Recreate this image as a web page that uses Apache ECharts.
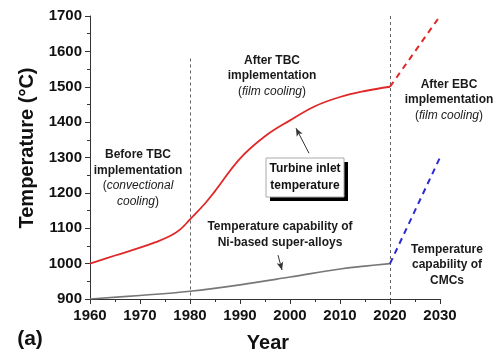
<!DOCTYPE html>
<html><head><meta charset="utf-8">
<script src="https://cdn.jsdelivr.net/npm/echarts@6/dist/echarts.min.js"></script>
<style>html,body{margin:0;padding:0;background:#fff}#c{width:500px;height:361px}</style>
</head><body><div id="c"></div>
<script>
// Data
const years = [1960,1965,1970,1973,1976,1978,1980,1983,1985,1990,1995,2000,2005,2010,2015,2020];
const turbineTemps = [1000,1023,1045,1060,1078,1096,1125,1170,1205,1297,1360,1405,1445,1471,1488,1500];
const alloyYears = [1960,1970,1980,1990,2000,2010,2015,2020];
const alloyTemps = [900,910,922,940,962,985,993,1000];
const ebcYears = [2020,2030];
const ebcTemps = [1500,1700];
const cmcYears = [2020,2030];
const cmcTemps = [1000,1300];
const xTicks = [1960,1970,1980,1990,2000,2010,2020,2030];
const yTicks = [900,1000,1100,1200,1300,1400,1500,1600,1700];

const FF = 'Liberation Sans, Arial, sans-serif';
const chart = echarts.init(document.getElementById('c'));
const pair = (xs, ys) => xs.map((x, i) => [x, ys[i]]);

const txt = (x, y, text, extra) => ({
  type: 'text', x, y, z: 50,
  style: Object.assign({
    text, align: 'center', verticalAlign: 'middle',
    fontFamily: FF, fontWeight: 'bold', fontSize: 12, lineHeight: 15.5, fill: '#1a1a1a',
    rich: {
      i: {fontStyle: 'italic', fontWeight: 'normal', fontSize: 12, fontFamily: FF, fill: '#1a1a1a', lineHeight: 15.5},
      n: {fontWeight: 'normal', fontSize: 12, fontFamily: FF, fill: '#1a1a1a', lineHeight: 15.5}
    }
  }, extra || {})
});

const arrowLine = (a, b) => [{coord: a}, {coord: b}];

chart.setOption({
  animation: false,
  grid: {left: 90, right: 60, top: 16, bottom: 62},
  xAxis: {
    type: 'value', min: xTicks[0], max: xTicks[xTicks.length-1], interval: 10,
    axisLine: {lineStyle: {color: '#333', width: 1}},
    axisTick: {length: 5, lineStyle: {color: '#333'}},
    minorTick: {show: true, splitNumber: 2, length: 3, lineStyle: {color: '#333'}},
    splitLine: {show: false},
    axisLabel: {color: '#111', fontWeight: 'bold', fontSize: 15, fontFamily: FF, margin: 9,
      formatter: v => String(v)}
  },
  yAxis: {
    type: 'value', min: yTicks[0], max: yTicks[yTicks.length-1], interval: 100,
    axisLine: {show: true, lineStyle: {color: '#333', width: 1}},
    axisTick: {show: true, length: 5, lineStyle: {color: '#333'}},
    minorTick: {show: true, splitNumber: 2, length: 3, lineStyle: {color: '#333'}},
    splitLine: {show: false},
    axisLabel: {color: '#111', fontWeight: 'bold', fontSize: 15, fontFamily: FF, margin: 8,
      formatter: v => String(v)}
  },
  series: [
    {type: 'line', data: pair(years, turbineTemps), smooth: 0.4, showSymbol: false,
     lineStyle: {color: '#e02828', width: 1.8}, z: 5},
    {type: 'line', data: pair(alloyYears, alloyTemps), smooth: 0.4, showSymbol: false,
     lineStyle: {color: '#777', width: 1.6}, z: 5},
    {type: 'line', data: pair(ebcYears, ebcTemps), showSymbol: false,
     lineStyle: {color: '#e02828', width: 2, type: [6, 5]}, z: 5},
    {type: 'line', data: pair(cmcYears, cmcTemps), showSymbol: false,
     lineStyle: {color: '#2a2ad0', width: 2, type: [6, 5]}, z: 5},
    {type: 'line', data: [], clip: false, z: 3,
     markLine: {silent: true, symbol: ['none','none'], label: {show: false},
       lineStyle: {color: '#666', width: 1, type: [3, 3]},
       data: [arrowLine([1980, 1580], [1980, 900]), arrowLine([2020, 1700], [2020, 900])]}},
    {type: 'line', data: [], clip: false, z: 10,
     markLine: {silent: true, symbol: ['none','arrow'], symbolSize: [5, 8], label: {show: false},
       lineStyle: {color: '#333', width: 1, type: 'solid'},
       data: [
         arrowLine([2003.8, 1312], [2001.2, 1383]),
         arrowLine([1997.6, 1024], [1998.4, 982]),
         arrowLine([2030.6, 1541], [2028.4, 1629]),
         arrowLine([2030.4, 1067], [2028.0, 1163])
       ]}}
  ],
  graphic: [
    {type: 'text', x: 27, y: 148, rotation: Math.PI/2, z: 50,
     style: {text: 'Temperature (°C)', align: 'center', verticalAlign: 'middle',
       fontFamily: FF, fontWeight: 'bold', fontSize: 20, fill: '#111'}},
    {type: 'text', x: 268, y: 343, z: 50,
     style: {text: 'Year', align: 'center', verticalAlign: 'middle',
       fontFamily: FF, fontWeight: 'bold', fontSize: 20, fill: '#111'}},
    {type: 'text', x: 30, y: 339, z: 50,
     style: {text: '(a)', align: 'center', verticalAlign: 'middle',
       fontFamily: FF, fontWeight: 'bold', fontSize: 21, fill: '#111'}},
    txt(138, 178, 'Before TBC\nimplementation\n{n|(}{i|convectional}\n{i|cooling}{n|)}'),
    txt(272, 76, 'After TBC\nimplementation\n{n|(}{i|film cooling}{n|)}'),
    txt(449, 100, 'After EBC\nimplementation\n{n|(}{i|film cooling}{n|)}'),
    txt(280, 234.5, 'Temperature capability of\nNi-based super-alloys'),
    txt(447, 265, 'Temperature\ncapability of\nCMCs'),
    {type: 'rect', z: 40, shape: {x: 270, y: 162, width: 78, height: 39}, style: {fill: '#000'}},
    {type: 'rect', z: 41, shape: {x: 266, y: 158, width: 78, height: 39}, style: {fill: '#fff', stroke: '#aaa', lineWidth: 1}},
    txt(305, 177.5, 'Turbine inlet\ntemperature', {fontSize: 12, lineHeight: 17, fill: '#111'})
  ]
});
</script></body></html>
